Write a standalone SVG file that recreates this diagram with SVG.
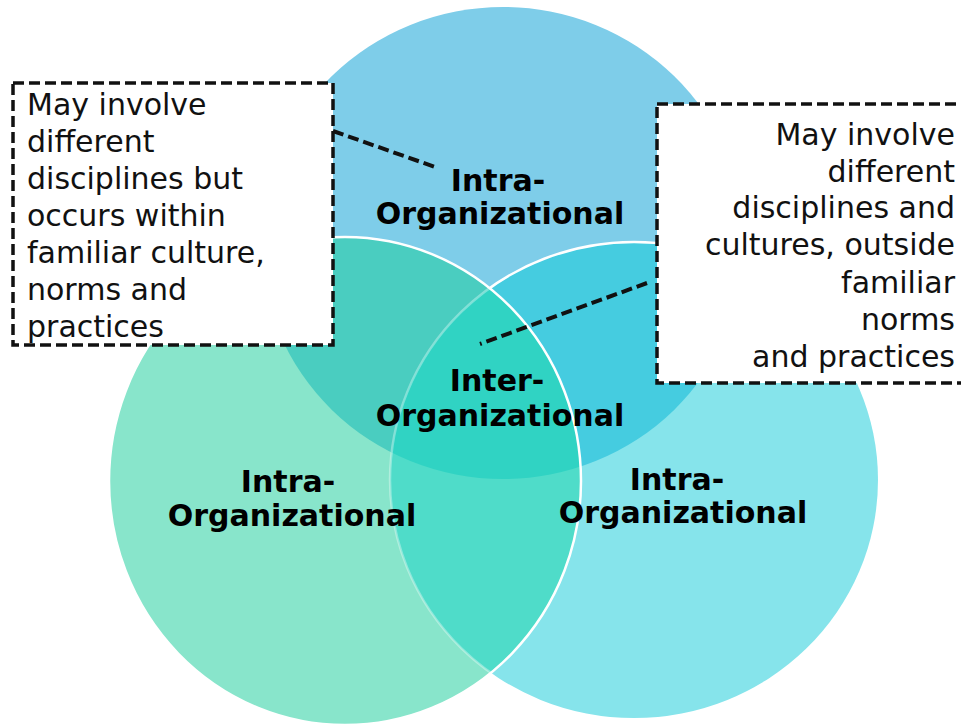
<svg xmlns="http://www.w3.org/2000/svg" xmlns:xlink="http://www.w3.org/1999/xlink" width="961" height="726" viewBox="0 0 961 726">
<style>
.lbl{font-family:"DejaVu Sans","Verdana",sans-serif;font-weight:bold;font-size:30px;fill:#000;text-anchor:middle}
.txt{font-family:"DejaVu Sans","Verdana",sans-serif;font-size:30px;fill:#111}
.box{fill:#fff;stroke:#111;stroke-width:3.5;stroke-dasharray:11 5}
.conn{fill:none;stroke:#111;stroke-width:4;stroke-dasharray:11 5}
.edge{fill:none;stroke:#fff;stroke-width:2.5}
</style>
<defs>
<ellipse id="eT" cx="503" cy="243" rx="242" ry="236"/>
<ellipse id="eL" cx="345" cy="481" rx="236" ry="244"/>
<ellipse id="eR" cx="634" cy="480" rx="244" ry="238"/>
<clipPath id="cT"><use xlink:href="#eT"/></clipPath>
<clipPath id="cL"><use xlink:href="#eL"/></clipPath>
<mask id="mTnotL" maskUnits="userSpaceOnUse" x="0" y="0" width="961" height="726">
<rect x="0" y="0" width="961" height="726" fill="#000"/>
<use xlink:href="#eT" fill="#fff"/>
<use xlink:href="#eL" fill="#000"/>
</mask>
<mask id="mInL" maskUnits="userSpaceOnUse" x="0" y="0" width="961" height="726">
<rect x="0" y="0" width="961" height="726" fill="#000"/>
<use xlink:href="#eL" fill="#fff"/>
</mask>
</defs>
<rect x="0" y="0" width="961" height="726" fill="#fff"/>
<g id="venn">
<use xlink:href="#eT" fill="#7ECDE9"/>
<use xlink:href="#eR" fill="#86E4EB"/>
<use xlink:href="#eL" fill="#88E5CB"/>
<g clip-path="url(#cT)">
<use xlink:href="#eR" fill="#45CCE0"/>
<use xlink:href="#eL" fill="#4ACDC0"/>
</g>
<g clip-path="url(#cL)">
<use xlink:href="#eR" fill="#4FDCC9"/>
</g>
<g clip-path="url(#cT)"><g clip-path="url(#cL)"><use xlink:href="#eR" fill="#30D3C3"/></g></g>
<use xlink:href="#eR" class="edge" stroke-opacity="0.35" mask="url(#mInL)"/>
<use xlink:href="#eR" class="edge" mask="url(#mTnotL)"/>
<use xlink:href="#eL" class="edge"/>
</g>
<g id="node-top">
<text class="lbl" x="498" y="191">Intra-</text>
<text class="lbl" x="500" y="224">Organizational</text>
</g>
<g id="node-left">
<text class="lbl" x="288" y="492">Intra-</text>
<text class="lbl" x="292" y="526">Organizational</text>
</g>
<g id="node-right">
<text class="lbl" x="677" y="490">Intra-</text>
<text class="lbl" x="683" y="523">Organizational</text>
</g>
<g id="node-center">
<text class="lbl" x="497" y="391">Inter-</text>
<text class="lbl" x="500" y="426">Organizational</text>
</g>
<g id="connectors">
<line class="conn" x1="333" y1="131" x2="438" y2="168"/>
<line class="conn" x1="647" y1="283" x2="480" y2="344"/>
</g>
<g id="callout-left">
<rect class="box" x="13" y="83" width="320" height="262"/>
<text class="txt" x="27" y="115">May involve</text>
<text class="txt" x="27" y="152">different</text>
<text class="txt" x="27" y="189">disciplines but</text>
<text class="txt" x="27" y="226">occurs within</text>
<text class="txt" x="27" y="263">familiar culture,</text>
<text class="txt" x="27" y="300">norms and</text>
<text class="txt" x="27" y="337">practices</text>
</g>
<g id="callout-right">
<rect class="box" x="657" y="104" width="320" height="279"/>
<g text-anchor="end">
<text class="txt" x="955" y="145">May involve</text>
<text class="txt" x="955" y="182">different</text>
<text class="txt" x="955" y="218">disciplines and</text>
<text class="txt" x="955" y="255">cultures, outside</text>
<text class="txt" x="955" y="293">familiar</text>
<text class="txt" x="955" y="330">norms</text>
<text class="txt" x="955" y="367">and practices</text>
</g>
</g>
</svg>
